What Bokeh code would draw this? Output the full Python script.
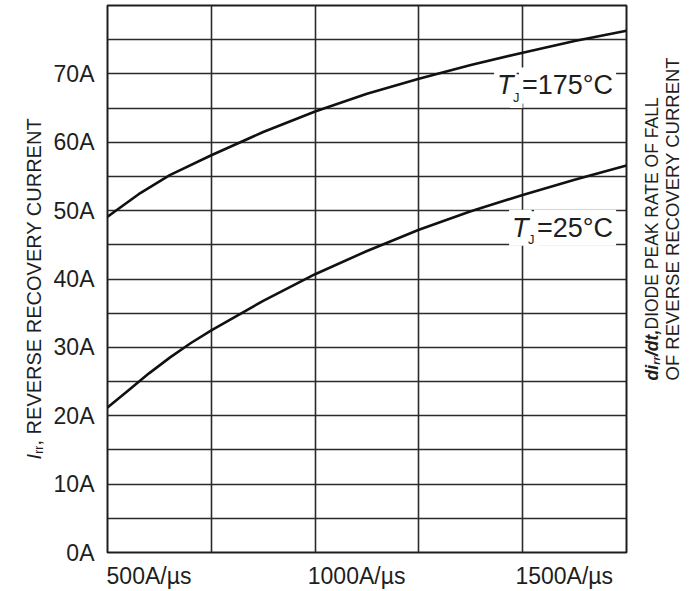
import math
from bokeh.plotting import figure
from bokeh.layouts import row
from bokeh.models import Range1d, FixedTicker, Label
from bokeh.embed import file_html
from bokeh.resources import INLINE

# ---- data ----
di_dt_175 = [400, 475, 550, 650, 775, 900, 1025, 1150, 1275, 1400, 1525, 1650]
irr_175 = [49.1, 52.4, 55.2, 58.1, 61.5, 64.5, 67.1, 69.3, 71.3, 73.1, 74.8, 76.3]
di_dt_25 = [400, 450, 500, 550, 600, 650, 775, 900, 1025, 1150, 1275, 1400, 1525, 1650]
irr_25 = [21.2, 23.7, 26.2, 28.5, 30.6, 32.5, 36.8, 40.7, 44.1, 47.2, 49.9, 52.3, 54.5, 56.6]

x_tick_values = [500, 1000, 1500]
x_tick_labels = ["500A/\u00b5s", "1000A/\u00b5s", "1500A/\u00b5s"]
y_tick_values = [0, 10, 20, 30, 40, 50, 60, 70]
y_tick_labels = ["0A", "10A", "20A", "30A", "40A", "50A", "60A", "70A"]
x_grid_values = [400, 650, 900, 1150, 1400, 1650]
y_grid_values = [5, 10, 15, 20, 25, 30, 35, 40, 45, 50, 55, 60, 65, 70, 75]

FONT = "Liberation Sans"
INK = "#1e1e1e"
H = 591

# ---- main chart ----
p = figure(width=586, height=H, x_range=Range1d(400, 1650), y_range=Range1d(0, 80),
           output_backend="svg", toolbar_location=None,
           min_border_left=56, min_border_right=10, min_border_top=5, min_border_bottom=39)
p.background_fill_color = "white"
p.border_fill_color = "white"
p.outline_line_color = INK
p.outline_line_width = 2

for ax in (p.xaxis, p.yaxis):
    ax.axis_line_color = None
    ax.major_tick_line_color = None
    ax.minor_tick_line_color = None
    ax.major_tick_out = 0
    ax.major_tick_in = 0
    ax.minor_tick_out = 0
    ax.minor_tick_in = 0
    ax.major_label_text_font = FONT
    ax.major_label_text_font_size = "23px"
    ax.major_label_text_color = INK

p.xaxis.ticker = FixedTicker(ticks=x_tick_values)
p.xaxis.major_label_overrides = dict(zip(x_tick_values, x_tick_labels))
p.xaxis.major_label_standoff = 10
p.yaxis.ticker = FixedTicker(ticks=y_tick_values)
p.yaxis.major_label_overrides = dict(zip(y_tick_values, y_tick_labels))
p.yaxis.major_label_standoff = 13

p.xgrid.ticker = FixedTicker(ticks=x_grid_values)
p.ygrid.ticker = FixedTicker(ticks=y_grid_values)
for g in (p.xgrid, p.ygrid):
    g.grid_line_color = "#2a2a2a"
    g.grid_line_width = 1.6
    g.grid_line_alpha = 1.0

p.line(di_dt_175, irr_175, line_color="#111111", line_width=2.6)
p.line(di_dt_25, irr_25, line_color="#111111", line_width=2.6)

# ---- curve labels T_J=... ----
def tj_label(y, rest, rest_w):
    common = dict(text_font=FONT, text_color=INK, background_fill_color="white",
                  text_baseline="middle", padding=3)
    p.add_layout(Label(x=1625, y=y, text=rest, text_align="right",
                       text_font_size="27px", **common))
    p.add_layout(Label(x=1625, y=y, x_offset=-(rest_w + 31), text="T", text_align="left",
                       text_font_size="27px", text_font_style="italic", **common))
    p.add_layout(Label(x=1625, y=y, x_offset=-(rest_w + 15), y_offset=-12, text="J",
                       text_align="left", text_font_size="13px", **common))

tj_label(68.3, "=175\u00b0C", 91)
tj_label(47.5, "=25\u00b0C", 76)

# ---- side panels holding the rotated axis titles ----
def side_fig(w):
    f = figure(width=w, height=H, x_range=Range1d(0, 1), y_range=Range1d(0, 1),
               output_backend="svg", toolbar_location=None,
               x_axis_location=None, y_axis_location=None, min_border=0)
    f.grid.visible = False
    f.outline_line_color = None
    f.background_fill_color = "white"
    f.border_fill_color = "white"
    return f

rot = math.pi / 2
lc = dict(x_units="screen", y_units="screen", angle=rot, text_font=FONT, text_color=INK,
          text_align="left", text_baseline="middle")

left = side_fig(50)
y0 = 93
left.add_layout(Label(x=33, y=y0, text="I", text_font_size="20px", text_font_style="italic", **lc))
left.add_layout(Label(x=38, y=y0 + 5.8, text="rr", text_font_size="12px", **lc))
left.add_layout(Label(x=33, y=y0 + 14, text=", REVERSE RECOVERY CURRENT", text_font_size="20px", **lc))

right = side_fig(57)
y1 = 172
right.add_layout(Label(x=15, y=y1, text="di", text_font_size="17.5px",
                       text_font_style="bold italic", **lc))
right.add_layout(Label(x=19, y=y1 + 15.8, text="rr", text_font_size="10.5px",
                       text_font_style="bold italic", **lc))
right.add_layout(Label(x=15, y=y1 + 24.5, text="/dt,", text_font_size="17.5px",
                       text_font_style="bold italic", **lc))
right.add_layout(Label(x=15, y=y1 + 51, text=" DIODE PEAK RATE OF FALL", text_font_size="17.5px", **lc))
right.add_layout(Label(x=36, y=y1, text="OF REVERSE RECOVERY CURRENT", text_font_size="18.5px", **lc))

layout = row(left, p, right, spacing=0)
open("out.html", "w").write(file_html(layout, INLINE))
